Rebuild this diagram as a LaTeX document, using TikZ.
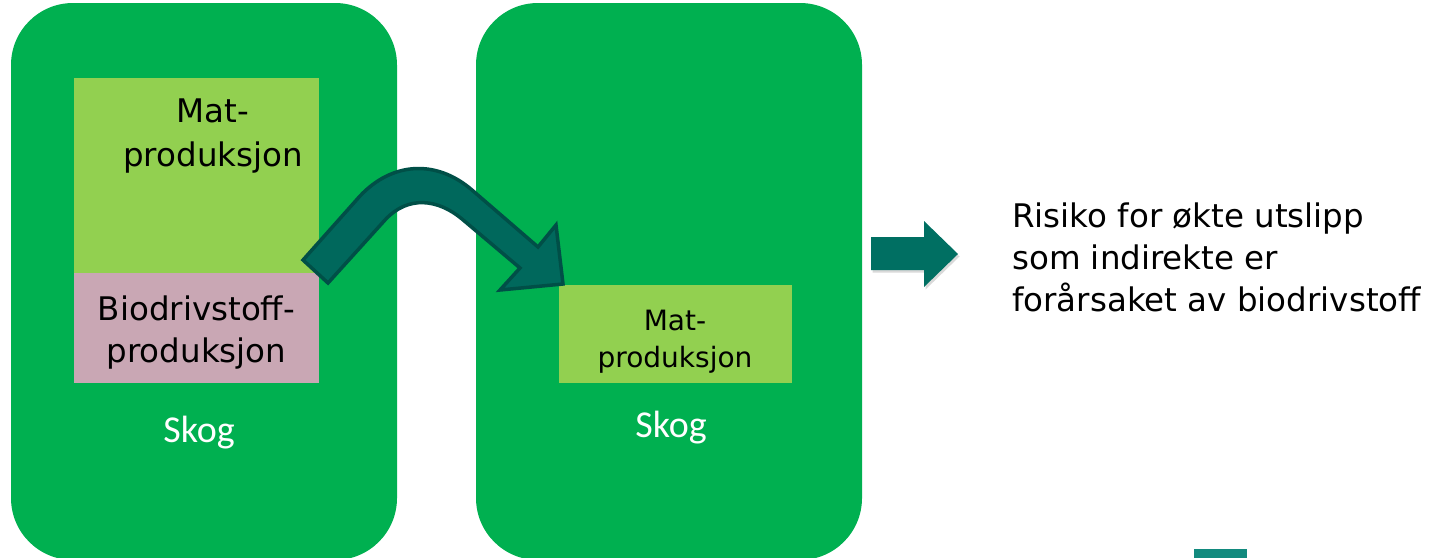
\documentclass[tikz,border=0pt]{standalone}
\usepackage{fontspec}
\setmainfont{DejaVu Sans}
\newfontfamily\calibfont{Carlito}
\usetikzlibrary{shadows}
\definecolor{forest}{HTML}{00B050}
\definecolor{lgreen}{HTML}{92D050}
\definecolor{pinkish}{HTML}{C9A7B4}
\definecolor{tealfill}{HTML}{00685C}
\definecolor{tealborder}{HTML}{004F47}
\definecolor{tealarrow}{HTML}{006F62}
\definecolor{tealbar}{HTML}{128A7E}
\begin{document}
\begin{tikzpicture}[x=1pt,y=-1pt,
  panel/.style={fill=forest, draw=none, rounded corners=62pt, inner sep=0pt, outer sep=0pt,
                minimum width=386pt, minimum height=557pt},
  boxa/.style={fill=lgreen, draw=none, inner sep=0pt, outer sep=0pt},
  boxb/.style={fill=pinkish, draw=none, inner sep=0pt, outer sep=0pt},
  bigtxt/.style={inner sep=0pt, align=center, text=black, font=\fontsize{32.5}{44}\selectfont},
  midtxt/.style={inner sep=0pt, align=center, text=black, font=\fontsize{32.5}{42}\selectfont},
  smalltxt/.style={inner sep=0pt, align=center, text=black, font=\fontsize{28}{37}\selectfont},
  skogtxt/.style={inner sep=0pt, text=white, font=\calibfont\fontsize{38}{44}\selectfont},
  risktxt/.style={inner sep=0pt, align=left, text=black, font=\fontsize{32.5}{42}\selectfont},
  bentarrow/.style={fill=tealfill, draw=tealborder, line width=3.5pt},
  blockarrow/.style={fill=tealarrow, drop shadow={opacity=0.3, shadow xshift=1.5pt, shadow yshift=-2.5pt}}
]
\useasboundingbox (0,0) rectangle (1439,557);

% panels
\node[panel, anchor=north west] (forest1) at (11,3) {};
\node[panel, anchor=north west] (forest2) at (476,3) {};

% left boxes
\node[boxa, anchor=north west, minimum width=245pt, minimum height=195pt] (food1) at (74,78) {};
\node[boxb, anchor=north west, minimum width=245pt, minimum height=110pt] (bio1) at (74,273) {};
\node[bigtxt, anchor=base] (food1t) at (213,166) {Mat-\\produksjon};
\node[midtxt, anchor=base] (bio1t) at (196.5,362) {Biodrivstoff-\\produksjon};
\node[skogtxt, anchor=base] (skog1) at (199,442) {Skog};

% right box
\node[boxa, anchor=north west, minimum width=233pt, minimum height=98pt] (food2) at (559,285) {};
\node[smalltxt, anchor=base] (food2t) at (675,367) {Mat-\\produksjon};
\node[skogtxt, anchor=base] (skog2) at (671,437) {Skog};

% bent arrow
\path[bentarrow] (303,260) -- (360,196) .. controls (392,162) and (436,159) .. (472,190)
  -- (538,247) -- (556,225) -- (563,284) -- (500,290) -- (520,268)
  -- (462,219) .. controls (438,199) and (408,195) .. (385,220) -- (328,283) -- cycle;

% straight arrow
\path[blockarrow] (871,237) -- (924,237) -- (924,221) -- (958,254) -- (924,287) -- (924,270) -- (871,270) -- cycle;

% text
\node[risktxt, anchor=base west] (risk) at (1012,311) {Risiko for økte utslipp\\som indirekte er\\forårsaket av biodrivstoff};

% bottom-right bar
\fill[tealbar] (1194,549) rectangle (1247,560);
\end{tikzpicture}
\end{document}
